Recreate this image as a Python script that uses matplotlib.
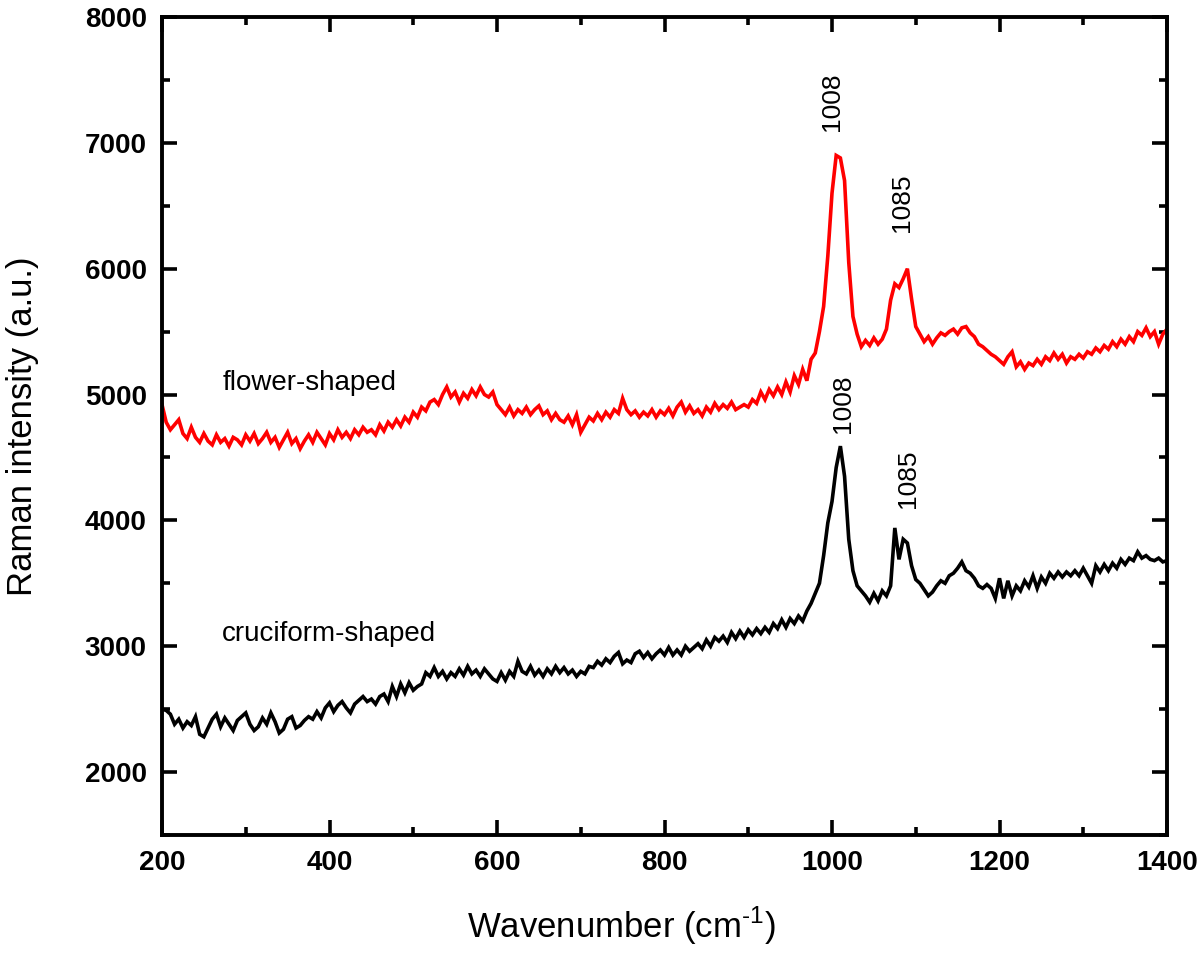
import numpy as np
import matplotlib
matplotlib.use("Agg")
import matplotlib.pyplot as plt
from matplotlib.ticker import MultipleLocator

plt.rcParams['font.family'] = ['Liberation Sans', 'DejaVu Sans']
plt.rcParams['mathtext.fontset'] = 'custom'
plt.rcParams['mathtext.rm'] = 'Liberation Sans'

# Wavenumber sampling grid (cm^-1), 5 cm^-1 step from 200 to 1400
wavenumber = np.arange(200, 1401, 5)

# Flower-shaped spectrum (red)
flower = [
    4920, 4780, 4720, 4760, 4800, 4690, 4650, 4740, 4660, 4620,   # 200-245
    4690, 4630, 4600, 4680, 4620, 4650, 4590, 4660, 4640, 4600,   # 250-295
    4680, 4630, 4690, 4610, 4650, 4700, 4620, 4660, 4580, 4640,   # 300-345
    4700, 4610, 4650, 4570, 4630, 4680, 4620, 4700, 4650, 4600,   # 350-395
    4690, 4640, 4720, 4660, 4700, 4650, 4720, 4680, 4740, 4700,   # 400-445
    4720, 4680, 4760, 4710, 4780, 4740, 4800, 4750, 4820, 4780,   # 450-495
    4860, 4820, 4900, 4870, 4940, 4960, 4920, 5000, 5060, 4980,   # 500-545
    5020, 4940, 5010, 4970, 5040, 4990, 5060, 5000, 4980, 5020,   # 550-595
    4920, 4880, 4840, 4900, 4830, 4880, 4850, 4900, 4840, 4880,   # 600-645
    4910, 4840, 4870, 4800, 4850, 4800, 4780, 4830, 4760, 4840,   # 650-695
    4700, 4760, 4820, 4790, 4850, 4800, 4860, 4820, 4880, 4850,   # 700-745
    4970, 4880, 4840, 4870, 4820, 4860, 4830, 4880, 4820, 4870,   # 750-795
    4840, 4890, 4830, 4900, 4940, 4860, 4910, 4850, 4880, 4830,   # 800-845
    4900, 4860, 4930, 4880, 4920, 4890, 4940, 4880, 4900, 4920,   # 850-895
    4900, 4960, 4930, 5020, 4960, 5040, 4990, 5060, 5000, 5100,   # 900-945
    5020, 5150, 5080, 5200, 5110, 5280, 5330, 5500, 5700, 6100,   # 950-995
    6600, 6900, 6880, 6700, 6050, 5620, 5480, 5380, 5430, 5390,   # 1000-1045
    5450, 5400, 5440, 5520, 5750, 5880, 5850, 5920, 6000, 5760,   # 1050-1095
    5540, 5480, 5420, 5460, 5400, 5450, 5490, 5470, 5500, 5520,   # 1100-1145
    5480, 5530, 5540, 5490, 5460, 5400, 5380, 5350, 5320, 5300,   # 1150-1195
    5270, 5240, 5300, 5340, 5220, 5260, 5200, 5250, 5230, 5280,   # 1200-1245
    5240, 5300, 5270, 5330, 5280, 5320, 5250, 5300, 5280, 5320,   # 1250-1295
    5290, 5340, 5320, 5370, 5340, 5390, 5360, 5420, 5380, 5440,   # 1300-1345
    5400, 5460, 5420, 5500, 5470, 5530, 5460, 5500, 5400, 5480,   # 1350-1395
    5520,                                                         # 1400
]

# Cruciform-shaped spectrum (black)
cruciform = [
    2500, 2490, 2460, 2380, 2420, 2350, 2400, 2370, 2440, 2300,   # 200-245
    2280, 2350, 2420, 2460, 2360, 2430, 2380, 2330, 2410, 2440,   # 250-295
    2470, 2380, 2330, 2360, 2430, 2380, 2470, 2400, 2310, 2340,   # 300-345
    2420, 2440, 2350, 2370, 2410, 2440, 2420, 2480, 2430, 2510,   # 350-395
    2550, 2480, 2530, 2560, 2510, 2470, 2540, 2570, 2600, 2560,   # 400-445
    2580, 2540, 2600, 2620, 2560, 2680, 2600, 2700, 2630, 2710,   # 450-495
    2650, 2680, 2700, 2790, 2760, 2830, 2760, 2800, 2740, 2790,   # 500-545
    2760, 2820, 2770, 2840, 2780, 2810, 2760, 2820, 2780, 2740,   # 550-595
    2720, 2790, 2730, 2800, 2760, 2880, 2800, 2780, 2840, 2770,   # 600-645
    2810, 2760, 2820, 2780, 2840, 2790, 2830, 2780, 2810, 2760,   # 650-695
    2800, 2780, 2840, 2830, 2880, 2850, 2900, 2870, 2920, 2950,   # 700-745
    2860, 2890, 2870, 2940, 2960, 2910, 2950, 2900, 2940, 2970,   # 750-795
    2930, 2990, 2930, 2970, 2930, 3000, 2960, 2990, 3020, 2980,   # 800-845
    3050, 3000, 3070, 3040, 3080, 3030, 3110, 3060, 3120, 3070,   # 850-895
    3130, 3090, 3140, 3100, 3150, 3110, 3180, 3140, 3210, 3150,   # 900-945
    3220, 3180, 3240, 3200, 3280, 3340, 3420, 3500, 3720, 3980,   # 950-995
    4150, 4420, 4590, 4350, 3850, 3600, 3480, 3440, 3400, 3350,   # 1000-1045
    3420, 3360, 3440, 3400, 3480, 3940, 3690, 3850, 3820, 3640,   # 1050-1095
    3530, 3500, 3450, 3400, 3430, 3480, 3520, 3500, 3560, 3580,   # 1100-1145
    3620, 3670, 3600, 3580, 3540, 3480, 3460, 3490, 3460, 3380,   # 1150-1195
    3540, 3380, 3520, 3400, 3480, 3440, 3520, 3470, 3560, 3460,   # 1200-1245
    3550, 3500, 3580, 3540, 3590, 3550, 3590, 3560, 3600, 3560,   # 1250-1295
    3620, 3560, 3500, 3640, 3590, 3650, 3600, 3660, 3620, 3690,   # 1300-1345
    3650, 3700, 3680, 3750, 3700, 3720, 3690, 3680, 3700, 3670,   # 1350-1395
    3680,                                                         # 1400
]

series_names = ["flower-shaped", "cruciform-shaped"]
peak_labels = ["1008", "1085"]

fig = plt.figure(figsize=(12, 9.56), dpi=100)
ax = fig.add_axes([0.135, 0.1266, 0.8375, 0.8556])

ax.plot(wavenumber, flower, color='#ff0000', lw=2.6, solid_joinstyle='miter')
ax.plot(wavenumber, cruciform, color='black', lw=2.6, solid_joinstyle='miter')

ax.set_xlim(200, 1400)
ax.set_ylim(1500, 8000)
ax.xaxis.set_major_locator(MultipleLocator(200))
ax.xaxis.set_minor_locator(MultipleLocator(100))
ax.yaxis.set_major_locator(MultipleLocator(1000))
ax.yaxis.set_minor_locator(MultipleLocator(500))
ax.set_yticks([2000, 3000, 4000, 5000, 6000, 7000, 8000])

for s in ax.spines.values():
    s.set_linewidth(2.8)

ax.tick_params(axis='both', which='both', direction='in', top=True, right=True, width=2.6)
ax.tick_params(axis='both', which='major', length=11, labelsize=20, pad=11)
ax.tick_params(axis='both', which='minor', length=6)
for lab in ax.get_xticklabels() + ax.get_yticklabels():
    lab.set_fontweight('bold')

ax.set_xlabel(r'Wavenumber (cm$^{\text{-1}}$)', fontsize=25)
ax.set_ylabel('Raman intensity (a.u.)', fontsize=25)
ax.xaxis.set_label_coords(0.457, -0.085)
ax.yaxis.set_label_coords(-0.122, 0.5)

# series names
ax.text(272, 5090, series_names[0], fontsize=20, ha='left', va='center')
ax.text(272, 3100, series_names[1], fontsize=20, ha='left', va='center')

# peak annotations
ax.text(1000, 7324, peak_labels[0], rotation=90, fontsize=19, ha='center', va='center')
ax.text(1084, 6528, peak_labels[1], rotation=90, fontsize=19, ha='center', va='center')
ax.text(1013, 4929, peak_labels[0], rotation=90, fontsize=19, ha='center', va='center')
ax.text(1091, 4333, peak_labels[1], rotation=90, fontsize=19, ha='center', va='center')

fig.savefig('out.png', dpi=100)
